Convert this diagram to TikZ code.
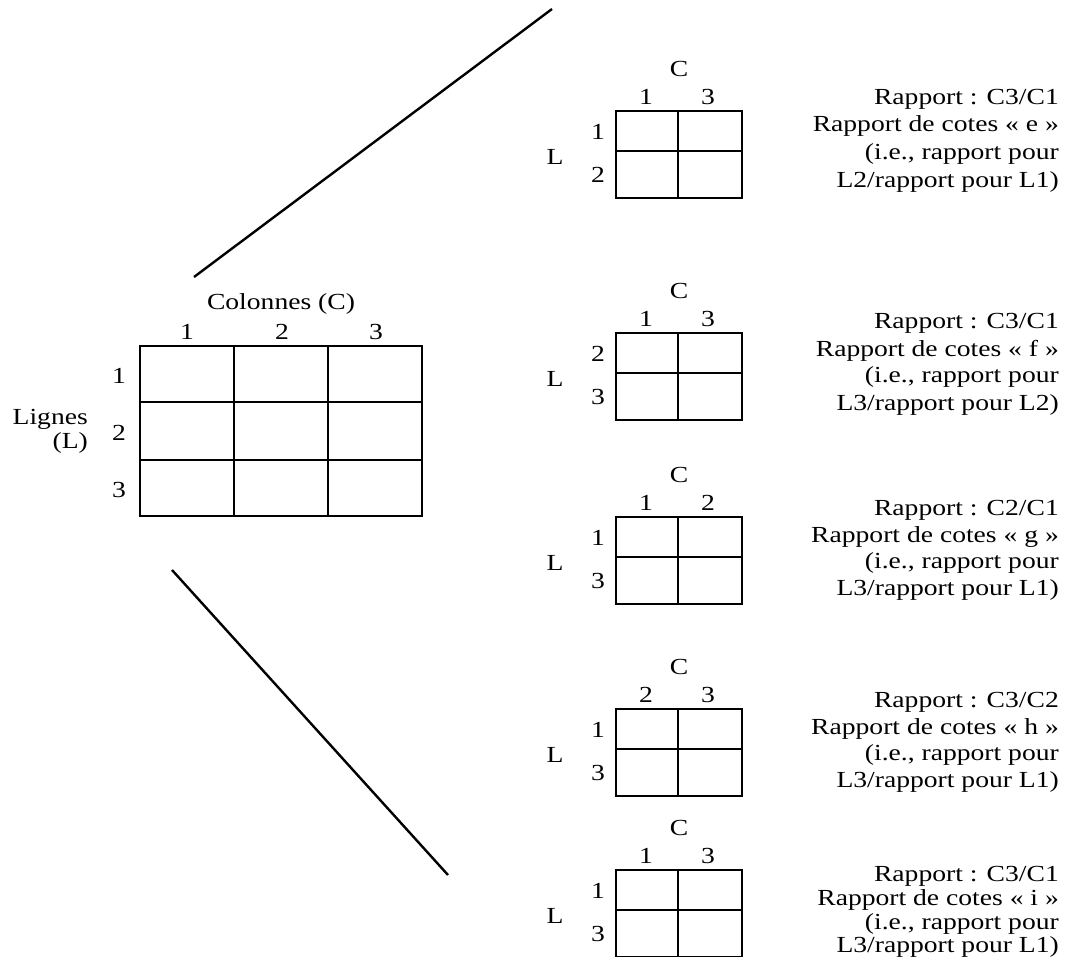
\documentclass[tikz,border=0pt]{standalone}
\usepackage{fontspec}
\setmainfont[FakeStretch=1.2]{Liberation Serif}
\begin{document}
\begin{tikzpicture}[x=1pt,y=-1pt,
  every node/.style={inner sep=0pt,font=\fontsize{23}{27}\selectfont},
  grid/.style={line width=1.7pt},
  wedge/.style={line width=2.4pt},
  lbl/.style={anchor=center},
  txt/.style={anchor=base east}]
\useasboundingbox (0,0) rectangle (1068,957);

% ---- big table
\draw[grid] (140,346) rectangle (422,516);
\draw[grid] (234,346) -- (234,516) (328,346) -- (328,516)
            (140,402) -- (422,402) (140,460) -- (422,460);
\node[lbl] (colonnes) at (281,304) {Colonnes (C)};
\node[lbl] (bc1) at (187,332) {1};
\node[lbl] (bc2) at (282,332) {2};
\node[lbl] (bc3) at (376,332) {3};
\node[lbl] (br1) at (119,376) {1};
\node[lbl] (br2) at (119,433) {2};
\node[lbl] (br3) at (119,490) {3};
\node[anchor=east] (lignes) at (88,419) {Lignes};
\node[anchor=east] (lignesL) at (88,443) {(L)};

% ---- wedge lines
\coordinate (w1a) at (194,277);
\coordinate (w1b) at (552,9);
\coordinate (w2a) at (172,570);
\coordinate (w2b) at (448,875);
\draw[wedge] (w1a) -- (w1b);
\draw[wedge] (w2a) -- (w2b);

% ---- small tables
\foreach \t/\ca/\cb/\ra/\rb/\n in {111/1/3/1/2/a, 333/1/3/2/3/b, 517/1/2/1/3/c, 709/2/3/1/3/d, 870/1/3/1/3/e}{
  \draw[grid] (616,\t) rectangle (742,\t+87);
  \draw[grid] (678,\t) -- (678,\t+87) (616,\t+40) -- (742,\t+40);
  \node[lbl] (C\n) at (679,\t-42) {C};
  \node[lbl] (ca\n) at (646,\t-14) {\ca};
  \node[lbl] (cb\n) at (708,\t-14) {\cb};
  \node[lbl] (ra\n) at (598,\t+21) {\ra};
  \node[lbl] (rb\n) at (598,\t+64) {\rb};
  \node[lbl] (L\n) at (555,\t+46) {L};
}

% ---- texts
\foreach \ya/\yb/\yc/\yd/\r/\k/\p/\n in {
  105/132/160/188/C3\slash C1/e/L2\slash rapport pour L1)/a,
  329/356/383/410/C3\slash C1/f/L3\slash rapport pour L2)/b,
  515/542/568/595/C2\slash C1/g/L3\slash rapport pour L1)/c,
  707/734/760/787/C3\slash C2/h/L3\slash rapport pour L1)/d,
  881/905/929/952/C3\slash C1/i/L3\slash rapport pour L1)/e}{
  \node[txt] (ta\n) at (1059,\ya) {Rapport : \r};
  \node[txt] (tb\n) at (1059,\yb) {Rapport de cotes « \k{} »};
  \node[txt] (tc\n) at (1059,\yc) {(i.e., rapport pour};
  \node[txt] (td\n) at (1059,\yd) {\p};
}
\end{tikzpicture}
\end{document}
